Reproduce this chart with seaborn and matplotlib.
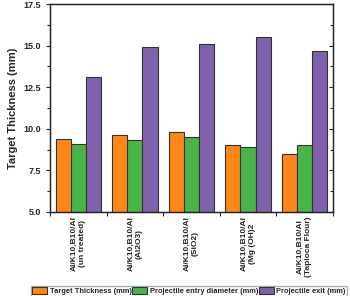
import matplotlib
matplotlib.use('Agg')
import matplotlib.pyplot as plt
from matplotlib.ticker import MultipleLocator, FixedLocator
import pandas as pd
import seaborn as sns

# Data
samples = ['Al/K10,B10/Al\n(un treated)', 'Al/K10,B10/Al\n(Al2O3)', 'Al/K10,B10/Al\n(SiO2)',
           'Al/K10,B10/Al\n(Mg (OH)2', 'Al/K10,B10/Al\n(Tapioca Flour)']
series = ['Target Thickness (mm)', 'Projectile entry diameter (mm)', 'Projectile exit (mm)']
target_thickness = [9.4, 9.6, 9.8, 9.0, 8.5]
entry_diameter = [9.1, 9.3, 9.5, 8.9, 9.0]
exit_diameter = [13.1, 14.9, 15.1, 15.5, 14.7]
colors = ['#FF8717', '#49B549', '#8061AB']

df = pd.DataFrame({'sample': samples * 3,
                   'series': [s for s in series for _ in samples],
                   'value': target_thickness + entry_diameter + exit_diameter})

sns.set_style('white')
plt.rcParams['font.family'] = ['Liberation Sans', 'DejaVu Sans']
plt.rcParams['font.weight'] = 'bold'

fig = plt.figure(figsize=(3.5, 2.96), dpi=100)
ax = fig.add_axes([0.143, 0.284, 0.808, 0.702])

sns.barplot(data=df, x='sample', y='value', hue='series', palette=colors, saturation=1,
            width=0.8, edgecolor='#333333', linewidth=0.8, ax=ax)

ax.set_ylim(5, 17.5)
ax.set_xlim(-0.5, 4.5)
ax.yaxis.set_major_locator(MultipleLocator(2.5))
ax.yaxis.set_minor_locator(MultipleLocator(1.25))
ax.set_ylabel('Target Thickness (mm)', fontsize=8, fontweight='bold')
ax.set_xlabel('')
ax.tick_params(axis='y', which='both', direction='out', left=True, right=False, labelsize=6.5, width=0.8)
ax.tick_params(axis='y', which='major', length=3)
ax.tick_params(axis='y', which='minor', length=2)
for lab in ax.get_yticklabels():
    lab.set_fontweight('bold')

# right side inward ticks
ax2 = ax.twinx()
ax2.set_ylim(5, 17.5)
ax2.yaxis.set_major_locator(MultipleLocator(2.5))
ax2.yaxis.set_minor_locator(MultipleLocator(1.25))
ax2.tick_params(axis='y', which='both', direction='in', labelright=False, width=0.8)
ax2.tick_params(axis='y', which='major', length=3)
ax2.tick_params(axis='y', which='minor', length=2)

ax.set_xticks(range(len(samples)))
ax.set_xticklabels(samples, rotation=90, fontsize=6, fontweight='bold', ha='center', va='top',
                   multialignment='center')
ax.tick_params(axis='x', which='major', length=0, pad=3)
ax.xaxis.set_minor_locator(FixedLocator([i + 0.5 for i in range(-1, len(samples))]))
ax.tick_params(axis='x', which='minor', direction='out', length=3, bottom=True, width=0.8)

for a in (ax, ax2):
    for sp in a.spines.values():
        sp.set_color('#222222')
        sp.set_linewidth(0.9)

handles, labels = ax.get_legend_handles_labels()
ax.legend_.remove()
fig.legend(handles, labels, loc='lower center', bbox_to_anchor=(0.54, -0.005), ncol=3,
           prop={'weight': 'bold', 'size': 5.4}, frameon=True, fancybox=False,
           edgecolor='#999999', handlelength=2.0, handleheight=1.1, handletextpad=0.3,
           columnspacing=0.1, borderpad=0.2, borderaxespad=0.1)

fig.savefig('out.png', dpi=100)
